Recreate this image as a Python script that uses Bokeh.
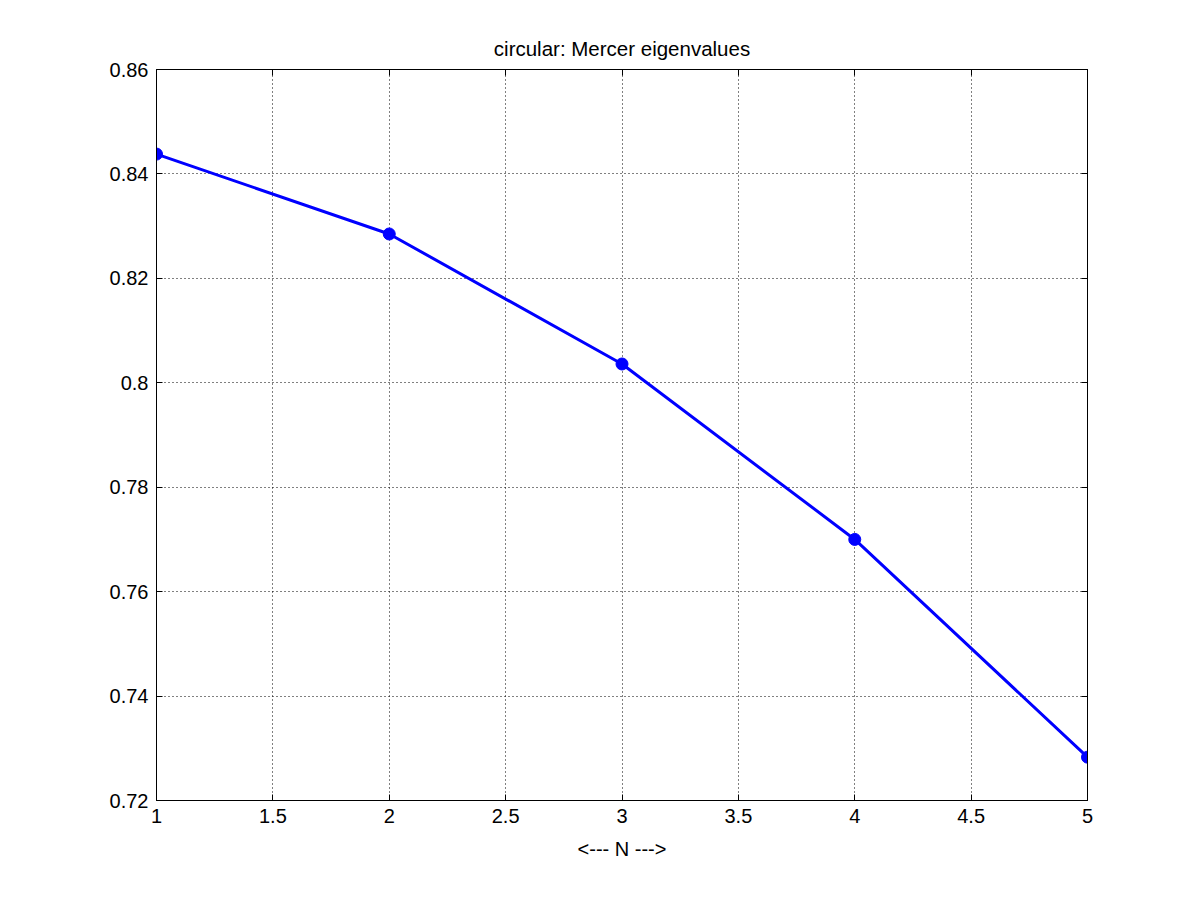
from bokeh.plotting import figure
from bokeh.models import Range1d, LinearAxis, CustomJSTickFormatter, FixedTicker
from bokeh.embed import file_html
from bokeh.resources import INLINE

N = [1, 2, 3, 4, 5]
eig = [0.8438, 0.8285, 0.8036, 0.7700, 0.7283]
x_ticks = [1, 1.5, 2, 2.5, 3, 3.5, 4, 4.5, 5]
y_ticks = [0.72, 0.74, 0.76, 0.78, 0.80, 0.82, 0.84, 0.86]
title_text = "circular: Mercer eigenvalues"
x_label = "<--- N --->"

FONT = "Liberation Sans"

p = figure(width=1184, height=884, output_backend="svg", toolbar_location=None,
           x_range=Range1d(1, 5), y_range=Range1d(0.72, 0.86),
           min_border_left=156, min_border_right=97, min_border_top=69, min_border_bottom=84,
           title=title_text)
p.title.align = "center"
p.title.text_font = FONT
p.title.text_font_size = "20.5px"
p.title.text_font_style = "normal"
p.title.text_color = "black"
p.title.offset = 0
p.title.standoff = 20

p.outline_line_color = "black"
p.outline_line_width = 1
p.background_fill_color = "white"
p.border_fill_color = "white"

for ax in (p.xaxis[0], p.yaxis[0]):
    ax.major_tick_in = 6
    ax.major_tick_out = 0
    ax.minor_tick_line_color = None
    ax.axis_line_color = "black"
    ax.major_tick_line_color = "black"
    ax.major_label_text_font = FONT
    ax.major_label_text_font_size = "20px"
    ax.major_label_text_color = "black"
    ax.major_label_standoff = 8

p.xaxis[0].ticker = FixedTicker(ticks=x_ticks)
p.yaxis[0].ticker = FixedTicker(ticks=y_ticks)
p.xaxis[0].major_label_overrides = {1.0: "1", 2.0: "2", 3.0: "3", 4.0: "4", 5.0: "5"}
p.yaxis[0].major_label_overrides = {0.8: "0.8"}
p.xaxis[0].axis_label = x_label
p.xaxis[0].axis_label_text_font = FONT
p.xaxis[0].axis_label_text_font_size = "20px"
p.xaxis[0].axis_label_text_font_style = "normal"
p.xaxis[0].axis_label_text_color = "black"
p.xaxis[0].axis_label_standoff = 12

blank = CustomJSTickFormatter(code="return '';")
top = LinearAxis(ticker=FixedTicker(ticks=x_ticks), formatter=blank,
                 major_tick_in=6, major_tick_out=0, minor_tick_line_color=None,
                 major_label_text_font_size="0px", major_label_standoff=0)
right = LinearAxis(ticker=FixedTicker(ticks=y_ticks), formatter=blank,
                   major_tick_in=6, major_tick_out=0, minor_tick_line_color=None,
                   major_label_text_font_size="0px", major_label_standoff=0)
p.add_layout(top, "above")
p.add_layout(right, "right")

p.xgrid.ticker = FixedTicker(ticks=x_ticks)
p.ygrid.ticker = FixedTicker(ticks=y_ticks)
for g in (p.xgrid[0], p.ygrid[0]):
    g.grid_line_color = "black"
    g.grid_line_dash = "1 3"
    g.grid_line_width = 1
    g.grid_line_alpha = 1.0

p.line(N, eig, line_color="#0000ff", line_width=3)
p.scatter(N, eig, size=12, fill_color="#0000ff", line_color="#0000ff")

open("out.html", "w").write(file_html(p, INLINE))
